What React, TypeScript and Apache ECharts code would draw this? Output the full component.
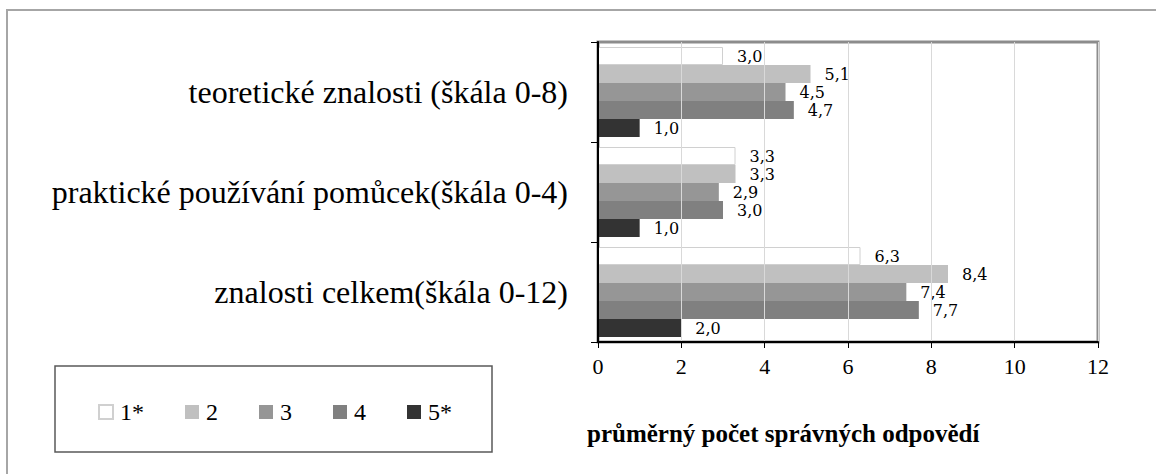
import React, { useEffect, useRef } from "react";
import * as echarts from "echarts";

const categories = [
  "teoretické znalosti (škála 0-8)",
  "praktické používání pomůcek(škála 0-4)",
  "znalosti celkem(škála 0-12)",
];
const seriesNames = ["1*", "2", "3", "4", "5*"];
const values1 = [3.0, 3.3, 6.3];
const values2 = [5.1, 3.3, 8.4];
const values3 = [4.5, 2.9, 7.4];
const values4 = [4.7, 3.0, 7.7];
const values5 = [1.0, 1.0, 2.0];
const xTicks = { min: 0, max: 12, interval: 2 };
const axisTitle = "průměrný počet správných odpovědí";

const colors = ["#ffffff", "#c0c0c0", "#969696", "#808080", "#333333"];
const TIMES = "'Liberation Serif', 'Times New Roman', serif";
const LABELFONT = "'DejaVu Serif', serif";

export default function App() {
  const ref = useRef<HTMLDivElement>(null);
  useEffect(() => {
    if (!ref.current) return;
    const chart = echarts.init(ref.current, undefined, { renderer: "svg" });
    const all = [values1, values2, values3, values4, values5];
    const series = all.map((vals, i) => ({
      name: seriesNames[i],
      type: "bar",
      data: vals,
      barGap: "0%",
      barCategoryGap: "10%",
      itemStyle: {
        color: colors[i],
        borderColor: i === 0 ? "#d0d0d0" : colors[i],
        borderWidth: i === 0 ? 1 : 0,
      },
      label: {
        show: true,
        position: "right",
        distance: 14,
        formatter: (p: any) => Number(p.value).toFixed(1).replace(".", ","),
        fontFamily: LABELFONT,
        fontSize: 16,
        color: "#000",
      },
      z: 3,
    }));
    chart.setOption({
      animation: false,
      backgroundColor: "#ffffff",
      grid: {
        left: 598,
        top: 42,
        width: 500,
        height: 300,
        show: true,
        borderColor: "#8c8c8c",
        borderWidth: 3,
        backgroundColor: "transparent",
        z: 1,
      },
      legend: {
        left: 93,
        top: 395,
        itemWidth: 14,
        itemHeight: 14,
        itemGap: 41,
        icon: "rect",
        data: seriesNames,
        textStyle: {
          fontFamily: TIMES,
          fontSize: 24,
          color: "#000",
          padding: [0, 0, 0, 2],
        },
      },
      xAxis: {
        type: "value",
        min: xTicks.min,
        max: xTicks.max,
        interval: xTicks.interval,
        axisLine: { show: true, lineStyle: { color: "#000", width: 2 } },
        axisTick: { show: true, length: 6, lineStyle: { color: "#000", width: 1 } },
        axisLabel: {
          fontFamily: TIMES,
          fontSize: 22,
          color: "#000",
          margin: 13,
        },
        splitLine: { show: true, lineStyle: { color: "#d9d9d9", width: 1 } },
        z: 5,
      },
      yAxis: {
        type: "category",
        inverse: true,
        data: categories,
        axisLine: { show: true, lineStyle: { color: "#000", width: 2 } },
        axisTick: { show: true, length: 7, lineStyle: { color: "#000", width: 1 } },
        axisLabel: {
          fontFamily: TIMES,
          fontSize: 32,
          color: "#000",
          margin: 30,
        },
        z: 5,
      },
      graphic: [
        {
          type: "rect",
          shape: { x: 7, y: 10, width: 1300, height: 600 },
          style: { fill: "none", stroke: "#a6a6a6", lineWidth: 2 },
          silent: true,
        },
        {
          type: "rect",
          shape: { x: 55, y: 366, width: 437, height: 86 },
          style: { fill: "none", stroke: "#595959", lineWidth: 1.5 },
          silent: true,
        },
        {
          type: "text",
          left: 587,
          top: 421,
          style: {
            text: axisTitle,
            fontFamily: TIMES,
            fontWeight: "bold",
            fontSize: 25,
            fill: "#000",
          },
        },
      ],
      series,
    });
    return () => chart.dispose();
  }, []);
  return (
    <div
      ref={ref}
      style={{ position: "absolute", left: 0, top: 0, width: 1156, height: 474 }}
    />
  );
}
